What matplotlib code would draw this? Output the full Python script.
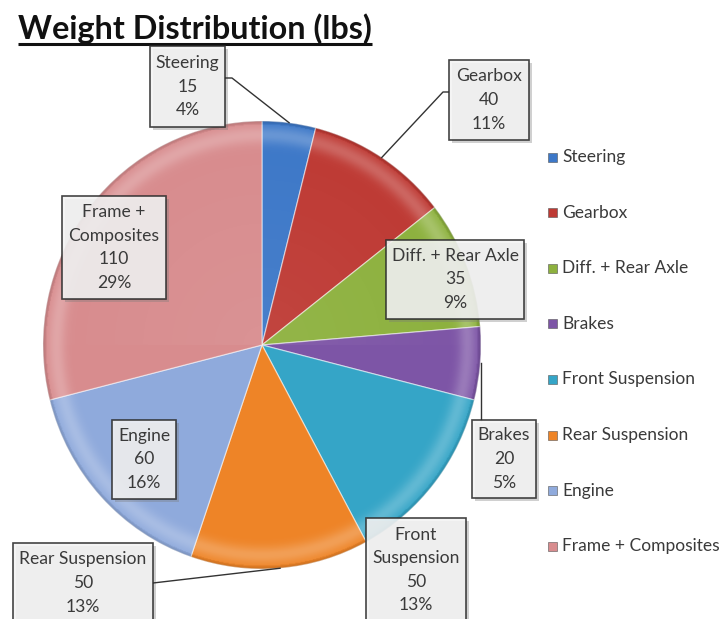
import numpy as np
import matplotlib.pyplot as plt
from matplotlib.patches import Rectangle, Circle

plt.rcParams['font.family'] = ['Lato', 'DejaVu Sans']

W, H = 720, 619

parts = ['Steering', 'Gearbox', 'Diff. + Rear Axle', 'Brakes',
         'Front Suspension', 'Rear Suspension', 'Engine', 'Frame + Composites']
weights = [15, 40, 35, 20, 50, 50, 60, 110]
box_names = ['Steering', 'Gearbox', 'Diff. + Rear Axle', 'Brakes',
             'Front\nSuspension', 'Rear Suspension', 'Engine', 'Frame +\nComposites']
colors = ['#3d78c8', '#be3a34', '#8db13e', '#7d55a6',
          '#35a5c7', '#ee8427', '#8faadc', '#d88c8e']

# label boxes in pixel coords: left, top, right, bottom
boxes = {
    'Steering': (150, 46, 225, 127),
    'Gearbox': (449, 60, 529, 140),
    'Diff. + Rear Axle': (386, 240, 524, 319),
    'Brakes': (472, 420, 536, 498),
    'Front Suspension': (366, 518, 466, 660),
    'Rear Suspension': (13, 543, 153, 660),
    'Engine': (112, 420, 176, 499),
    'Frame + Composites': (62, 196, 166, 299),
}
text_centers = {
    'Front Suspension': 570,
    'Rear Suspension': 583,
}
# leader elbows (from the wedge rim towards the box)
leaders = {
    'Steering': [(232, 78), (225, 78)],
    'Gearbox': [(443, 92), (449, 92)],
    'Brakes': 'down',
    'Rear Suspension': [(153, 583)],
}

total = sum(weights)
txt_color = '#3a3a3a'

fig = plt.figure(figsize=(W / 100, H / 100), dpi=100)

# pie in its own axes, slightly taller than wide
pie_ax = fig.add_axes([43 / W, (H - 569) / H, 438 / W, 448 / H])
wedges, _ = pie_ax.pie(weights, colors=colors, startangle=90, counterclock=False,
                       wedgeprops=dict(edgecolor=(1, 1, 1, 0.5), linewidth=0.9))

# soft bevel on the rim
n = 500
xs = np.linspace(-1, 1, n)
X, Y = np.meshgrid(xs, xs)
R = np.hypot(X, Y)
shade = np.zeros((n, n, 4))
light = 0.22 * np.exp(-((R - 0.94) / 0.04) ** 2) + 0.06 * (Y > 0) * (1 - R)
dark = 0.14 * np.clip((R - 0.98) / 0.02, 0, 1)
shade[..., :3] = np.where(dark[..., None] > light[..., None], 0.0, 1.0)
shade[..., 3] = np.maximum(light, dark)
im = pie_ax.imshow(shade, extent=(-1, 1, -1, 1), origin='lower', zorder=3,
                   aspect='auto', interpolation='bilinear')
im.set_clip_path(Circle((0, 0), 1, transform=pie_ax.transData))
pie_ax.set_xlim(-1, 1)
pie_ax.set_ylim(-1, 1)
pie_ax.set_aspect('auto')
pie_ax.axis('off')

# overlay axes in pixel coordinates for title, labels and legend
ov = fig.add_axes([0, 0, 1, 1], zorder=5)
ov.set_xlim(0, W)
ov.set_ylim(H, 0)
ov.axis('off')

title = ov.text(18, 29, 'Weight Distribution (lbs)', fontsize=23.3, fontweight='bold',
                color='#111111', ha='left', va='center')
fig.canvas.draw()
bb = title.get_window_extent().transformed(ov.transData.inverted())
ov.plot([bb.x0, bb.x1], [44, 44], color='#111111', lw=2.2, solid_capstyle='butt')


def rim_point(wedge):
    mid = np.deg2rad((wedge.theta1 + wedge.theta2) / 2)
    disp = pie_ax.transData.transform((np.cos(mid), np.sin(mid)))
    return ov.transData.inverted().transform(disp)


for name, label, w, wedge in zip(parts, box_names, weights, wedges):
    l, t, r, b = boxes[name]
    ov.add_patch(Rectangle((l + 3, t + 3), r - l, b - t, facecolor='#7a7a7a',
                           alpha=0.35, edgecolor='none', zorder=2))
    ov.add_patch(Rectangle((l, t), r - l, b - t, facecolor='#f3f3f3', alpha=0.88,
                           edgecolor='#2b2b2b', lw=1.2, zorder=3))
    pct = round(w / total * 100)
    cy = text_centers.get(name, (t + b) / 2)
    ov.text((l + r) / 2, cy, f'{label}\n{w}\n{pct}%', ha='center', va='center',
            fontsize=12.6, color=txt_color, linespacing=1.58, zorder=4)

    if name in leaders:
        px, py = rim_point(wedge)
        if leaders[name] == 'down':
            pts = [(px + 1, py), (px + 1, t)]
        else:
            pts = [(px, py)] + leaders[name]
        ov.plot([p[0] for p in pts], [p[1] for p in pts], color='#333333',
                lw=1.0, zorder=2.5)

# legend
for i, (name, c) in enumerate(zip(parts, colors)):
    y = 157 + 55.6 * i
    ov.add_patch(Rectangle((548, y - 4.5), 9, 9, facecolor=c, edgecolor='#555555',
                           lw=0.4, zorder=3))
    ov.text(562, y, name, fontsize=12.5, color=txt_color, ha='left', va='center')

fig.savefig('out.png', dpi=100)
